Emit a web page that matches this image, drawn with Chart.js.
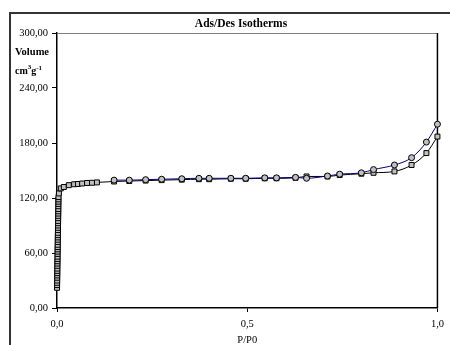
<!DOCTYPE html>
<html><head><meta charset="utf-8">
<script src="https://cdn.jsdelivr.net/npm/chart.js@4"></script>
<style>
html,body{margin:0;padding:0;background:#fff;overflow:hidden}
#wrap{position:relative;width:450px;height:345px;overflow:hidden;background:#fff}
#frame{position:absolute;left:9px;top:12px;width:480px;height:400px;border:2px solid #333;box-sizing:border-box}
canvas{position:absolute;left:0;top:0}
</style></head>
<body><div id="wrap"><div id="frame"></div><canvas id="c" width="450" height="345"></canvas></div>
<script>
// Adsorption branch (relative pressure P/P0, volume cm3/g)
const adsP = [0.0001,0.0002,0.0003,0.0004,0.0005,0.0006,0.0007,0.0008,0.0009,0.0010,
  0.0011,0.0012,0.0013,0.0014,0.0015,0.0016,0.0017,0.0018,0.0019,0.0020,
  0.0021,0.0022,0.0023,0.0024,0.0025,0.0026,0.0027,0.0028,0.0029,0.0030,
  0.0031,0.0032,0.0033,0.0034,0.0035,0.0036,0.0037,0.0038,0.0039,
  0.005,0.010,0.018,0.031,0.045,0.055,0.066,0.079,0.092,0.105,
  0.150,0.190,0.233,0.275,0.328,0.373,0.400,0.457,0.496,0.546,0.577,0.627,
  0.656,0.711,0.743,0.800,0.832,0.887,0.932,0.971,1.000];
const adsV = [22,25,27.5,30,33,35.5,38,40.5,43,46,
  48.5,51,53.5,56,59,61.5,64,66.5,69,72,
  74.5,77,79.5,82,85,87.5,90,92.5,95,98,
  100.5,103,105.5,108,111,113.5,116,118.5,121,
  125,130.5,132,134,135,135.3,135.8,136.4,136.6,137,
  138,138.5,139,139.5,140,140.5,140.5,141,141,141.5,141.5,142,
  143.5,143.5,145,146.5,147.5,149,156,169,187];

// Desorption branch
const desP = [1.000,0.971,0.932,0.887,0.832,0.800,0.743,0.711,0.656,0.627,0.577,
  0.546,0.496,0.457,0.400,0.373,0.328,0.275,0.233,0.190,0.150];
const desV = [200.5,181,164,156,151,147.5,146,144,141.5,142.5,142,
  142,141.5,141.5,141.5,141.5,141,140.5,140,139.5,139.5];

const xTicks = [0, 0.5, 1];
const yTicks = [0, 60, 120, 180, 240, 300];

const serif = "'Liberation Serif', 'Times New Roman', serif";

const toXY = (px, vy) => px.map((p, i) => ({x: p, y: vy[i]}));

// plot-area outline (top in grey, right in black) and free text
const decor = {
  id: 'decor',
  beforeDatasetsDraw(chart) {
    const {ctx, chartArea: a} = chart;
    ctx.save();
    ctx.lineWidth = 1;
    ctx.strokeStyle = '#808080';
    ctx.beginPath();
    ctx.moveTo(a.left, a.top + 0.5);
    ctx.lineTo(a.right, a.top + 0.5);
    ctx.stroke();
    ctx.strokeStyle = '#000';
    ctx.lineWidth = 1.5;
    ctx.beginPath();
    ctx.moveTo(a.right, a.top);
    ctx.lineTo(a.right, a.bottom);
    ctx.stroke();
    ctx.restore();
  },
  afterDraw(chart) {
    const {ctx} = chart;
    ctx.save();
    ctx.fillStyle = '#000';
    ctx.textBaseline = 'alphabetic';
    ctx.textAlign = 'center';
    ctx.font = "bold 11.5px " + serif;
    ctx.fillText('Ads/Des Isotherms', 241, 27);

    ctx.textAlign = 'left';
    ctx.font = "bold 10.5px " + serif;
    ctx.fillText('Volume', 15, 55);
    let x = 15;
    const part = (t, size, dy) => {
      ctx.font = "bold " + size + "px " + serif;
      ctx.fillText(t, x, 74 + dy);
      x += ctx.measureText(t).width;
    };
    part('cm', 10, 0);
    part('3', 7, -5);
    part('g', 10, 0);
    part('-1', 7, -4);
    ctx.restore();
  }
};

new Chart(document.getElementById('c'), {
  type: 'line',
  data: {
    datasets: [
      {
        label: 'Des',
        data: toXY(desP, desV),
        borderColor: '#000080',
        borderWidth: 1,
        pointStyle: 'circle',
        pointRadius: 3,
        pointBackgroundColor: '#c0c0c0',
        pointBorderColor: '#000',
        pointBorderWidth: 1,
        cubicInterpolationMode: 'monotone',
        clip: false
      },
      {
        label: 'Ads',
        data: toXY(adsP, adsV),
        borderColor: '#000',
        borderWidth: 1,
        pointStyle: 'rect',
        pointRadius: 3.5,
        pointBackgroundColor: '#c0c0c0',
        pointBorderColor: '#000',
        pointBorderWidth: 1,
        cubicInterpolationMode: 'monotone',
        clip: false
      }
    ]
  },
  options: {
    responsive: false,
    animation: false,
    devicePixelRatio: 1,
    layout: {padding: {top: 33, right: 11, left: 0, bottom: 0}},
    plugins: {legend: {display: false}, tooltip: {enabled: false}, title: {display: false}},
    scales: {
      x: {
        type: 'linear', min: 0, max: 1,
        afterBuildTicks: s => { s.ticks = xTicks.map(v => ({value: v})); },
        afterFit: s => { s.height = 37; },
        ticks: {
          color: '#000', padding: 6, maxRotation: 0,
          font: {family: serif, size: 10.5},
          callback: v => v.toFixed(1).replace('.', ',')
        },
        grid: {drawOnChartArea: false, drawTicks: true, tickLength: 4, color: '#000', tickWidth: 1},
        border: {color: '#000', width: 1.5},
        title: {display: true, text: 'P/P0', color: '#000', padding: 0,
          font: {family: serif, size: 10.5, lineHeight: 1}}
      },
      y: {
        type: 'linear', min: 0, max: 300,
        afterBuildTicks: s => { s.ticks = yTicks.map(v => ({value: v})); },
        afterFit: s => { s.width = 57; },
        ticks: {
          color: '#000', padding: 4,
          font: {family: serif, size: 10.5},
          callback: v => v.toFixed(2).replace('.', ',')
        },
        grid: {drawOnChartArea: false, drawTicks: true, tickLength: 5, color: '#000', tickWidth: 1},
        border: {color: '#000', width: 1.5}
      }
    }
  },
  plugins: [decor]
});
</script>
</body></html>
